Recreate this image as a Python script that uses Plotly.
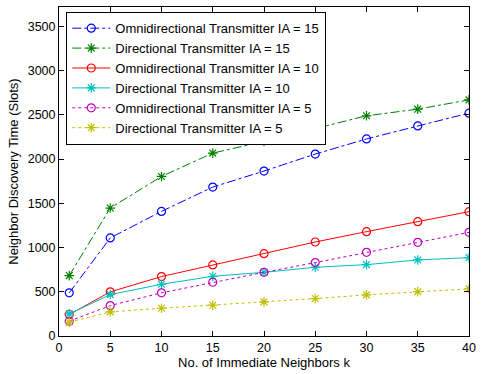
import plotly.graph_objects as go

k = [1, 5, 10, 15, 20, 25, 30, 35, 40]
omni_15 = [488, 1109, 1409, 1684, 1865, 2057, 2228, 2375, 2520]
dir_15 = [683, 1447, 1804, 2068, 2200, 2343, 2490, 2565, 2670]
omni_10 = [243, 499, 672, 804, 931, 1063, 1180, 1293, 1406]
dir_10 = [250, 468, 585, 675, 720, 777, 807, 860, 886]
omni_5 = [167, 344, 488, 608, 720, 830, 946, 1059, 1172]
dir_5 = [156, 273, 314, 348, 386, 423, 465, 502, 533]

series = [
    ("Omnidirectional Transmitter IA = 15", omni_15, "#0000FF", "dashdot", "circle-open"),
    ("Directional Transmitter IA = 15", dir_15, "#008000", "dashdot", "asterisk-open"),
    ("Omnidirectional Transmitter IA = 10", omni_10, "#FF0000", "solid", "circle-open"),
    ("Directional Transmitter IA = 10", dir_10, "#00BFBF", "solid", "asterisk-open"),
    ("Omnidirectional Transmitter IA = 5", omni_5, "#BF00BF", "dot", "circle-open"),
    ("Directional Transmitter IA = 5", dir_5, "#BFBF00", "dot", "asterisk-open"),
]

fig = go.Figure()
for name, vals, color, dash, sym in series:
    fig.add_trace(go.Scatter(
        x=k, y=vals, name=name, mode="lines+markers",
        line=dict(color=color, dash=dash, width=1),
        marker=dict(symbol=sym, size=8, color=color, line=dict(color=color, width=1.2)),
    ))

fam = "Liberation Sans, Arial, Helvetica, sans-serif"
font = dict(family=fam, size=13, color="black")
fig.update_layout(
    width=482, height=374,
    margin=dict(l=59, r=6, t=7, b=38),
    paper_bgcolor="white", plot_bgcolor="white",
    font=font,
    showlegend=True,
    legend=dict(
        x=0.017, y=0.985, xanchor="left", yanchor="top",
        bgcolor="white", bordercolor="black", borderwidth=1.3,
        font=dict(family=fam, size=13, color="black"),
        tracegroupgap=0, itemwidth=38,
    ),
    xaxis=dict(
        range=[0, 40], tickmode="array", tickvals=[0, 5, 10, 15, 20, 25, 30, 35, 40],
        ticks="inside", ticklen=5, tickcolor="black", showline=True, linecolor="black",
        linewidth=1, mirror="ticks", showgrid=False, zeroline=False,
        ticklabeloverflow="allow",
        title=dict(text="No. of Immediate Neighbors k", standoff=3, font=dict(family=fam, size=13)),
        tickfont=dict(family=fam, size=12.5),
    ),
    yaxis=dict(
        range=[0, 3720], tickmode="array", tickvals=[0, 500, 1000, 1500, 2000, 2500, 3000, 3500],
        ticks="inside", ticklen=5, tickcolor="black", showline=True, linecolor="black",
        linewidth=1, mirror="ticks", showgrid=False, zeroline=False,
        title=dict(text="Neighbor Discovery Time (Slots)", standoff=6, font=dict(family=fam, size=13)),
        tickfont=dict(family=fam, size=12.5),
    ),
)

fig.write_html("out.html")
